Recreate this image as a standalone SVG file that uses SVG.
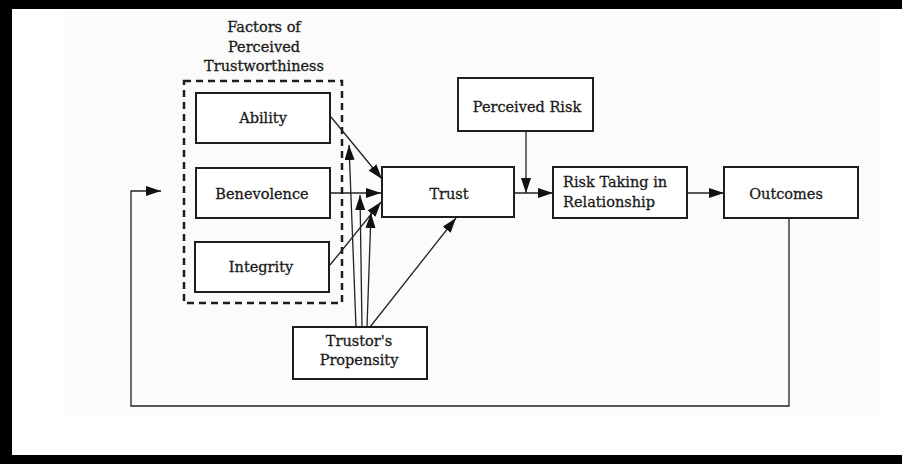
<svg xmlns="http://www.w3.org/2000/svg" width="902" height="464" viewBox="0 0 902 464">
  <style>
    .box { fill: #ffffff; stroke: #1e1e1e; stroke-width: 2; }
    .dash { fill: none; stroke: #1e1e1e; stroke-width: 2.5; stroke-dasharray: 7 5; }
    .lbl { font-family: "DejaVu Serif", "Liberation Serif", serif; font-size: 14.5px; fill: #1a1a1a; stroke: #1a1a1a; stroke-width: 0.3; }
    .c { text-anchor: middle; }
    .ln { fill: none; stroke: #222; stroke-width: 1.3; }
    .arr { marker-end: url(#ah); }
    .frame { fill: #000; }
  </style>
  <defs>
    <marker id="ah" markerUnits="userSpaceOnUse" markerWidth="16" markerHeight="11" refX="15" refY="5" orient="auto">
      <path d="M0,0 L15,5 L0,10 z" fill="#111"/>
    </marker>
  </defs>

  <rect x="0" y="0" width="902" height="464" fill="#ffffff"/>
  <rect x="65" y="10" width="815" height="405" fill="#fbfbfb"/>

  <g id="frame">
    <rect class="frame" x="0" y="0" width="902" height="9"/>
    <rect class="frame" x="0" y="0" width="12" height="464"/>
    <rect class="frame" x="0" y="455" width="902" height="9"/>
  </g>

  <g id="title">
    <text class="lbl c" x="264" y="32">Factors of</text>
    <text class="lbl c" x="264" y="52">Perceived</text>
    <text class="lbl c" x="264" y="71">Trustworthiness</text>
  </g>

  <g id="trustworthiness-group">
    <rect class="dash" x="184" y="81" width="158" height="222"/>
  </g>

  <g id="connectors">
    <line class="ln arr" x1="331" y1="117" x2="382" y2="179"/>
    <line class="ln arr" x1="330" y1="193" x2="381" y2="193"/>
    <line class="ln arr" x1="330" y1="265" x2="381" y2="202"/>
    <line class="ln arr" x1="356" y1="327" x2="349" y2="145"/>
    <line class="ln arr" x1="362" y1="327" x2="360" y2="195"/>
    <line class="ln arr" x1="367" y1="327" x2="371" y2="213"/>
    <line class="ln arr" x1="370" y1="327" x2="456" y2="218"/>
    <line class="ln arr" x1="526" y1="131" x2="526" y2="193"/>
    <line class="ln arr" x1="514" y1="193" x2="553" y2="193"/>
    <line class="ln arr" x1="688" y1="193" x2="724" y2="193"/>
    <polyline class="ln arr" points="789,218 789,406 131,406 131,191 161,191"/>
  </g>

  <g id="ability">
    <rect class="box" x="196" y="93" width="134" height="50"/>
    <text class="lbl c" x="263" y="123">Ability</text>
  </g>
  <g id="benevolence">
    <rect class="box" x="196" y="168" width="134" height="50"/>
    <text class="lbl c" x="262" y="199">Benevolence</text>
  </g>
  <g id="integrity">
    <rect class="box" x="195" y="242" width="134" height="50"/>
    <text class="lbl c" x="261" y="272">Integrity</text>
  </g>
  <g id="trust">
    <rect class="box" x="382" y="167" width="132" height="50"/>
    <text class="lbl c" x="449" y="199">Trust</text>
  </g>
  <g id="perceived-risk">
    <rect class="box" x="458" y="78" width="135" height="53"/>
    <text class="lbl c" x="527" y="112">Perceived Risk</text>
  </g>
  <g id="risk-taking">
    <rect class="box" x="553" y="167" width="134" height="51"/>
    <text class="lbl" x="563" y="187">Risk Taking in</text>
    <text class="lbl" x="563" y="207">Relationship</text>
  </g>
  <g id="outcomes">
    <rect class="box" x="724" y="167" width="134" height="51"/>
    <text class="lbl c" x="786" y="199">Outcomes</text>
  </g>
  <g id="propensity">
    <rect class="box" x="293" y="327" width="134" height="52"/>
    <text class="lbl c" x="359" y="346">Trustor's</text>
    <text class="lbl c" x="359" y="365">Propensity</text>
  </g>
</svg>
